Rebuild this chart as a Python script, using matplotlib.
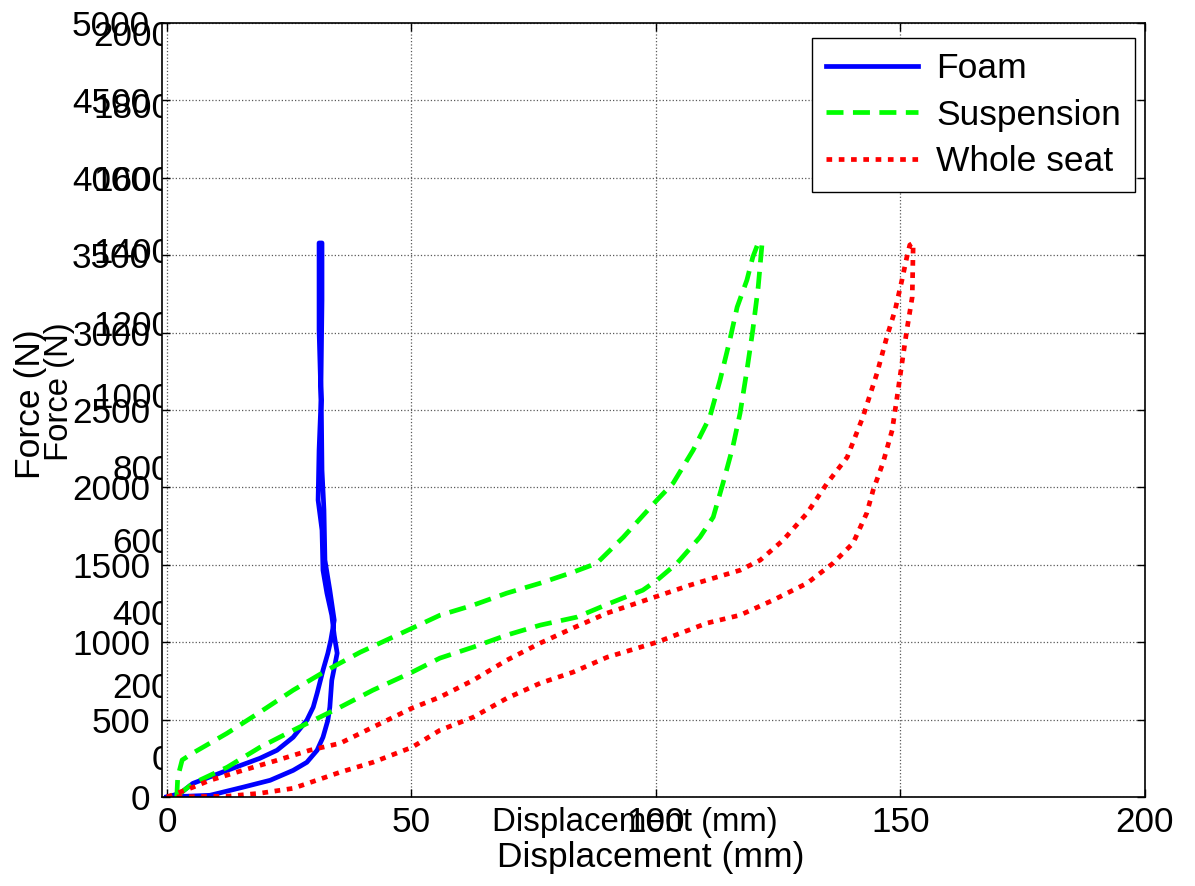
import numpy as np
import matplotlib
matplotlib.use('Agg')
import matplotlib.pyplot as plt


# 数据：位移 (mm) 与力 (N)
foam_x = [0, 8.8, 15.5, 21.1, 25.8, 28.6, 30.7, 31.9, 32.9, 33.3, 33.7, 34.4, 34.8,
          34.2, 33.7, 32.7, 31.9, 31.7, 30.9, 31.1, 31.5, 31.1, 31.1,
          31.7, 31.7, 31.5, 31.7, 32.1, 32.3, 33.3, 34.2, 33.5, 32.9, 31.9, 30.7,
          29.9, 28.6, 25.8, 22.5, 19.0, 12.3, 5.3, 2.7, 0]
foam_y = [0, 11, 63, 108, 172, 224, 302, 386, 496, 580, 754, 864, 929,
          1045, 1174, 1317, 1465, 1724, 1918, 2241, 2564, 3017, 3579,
          3579, 3210, 2693, 2111, 1853, 1530, 1336, 1142, 1013, 929, 819, 670,
          580, 496, 386, 302, 250, 172, 88, 24, 0]

susp_x = [2.0, 2.2, 3.1, 5.3, 12.3, 19.0, 25.8, 32.7, 39.5, 50.1, 55.8, 62.6, 69.5,
          76.3, 83.0, 87.9, 93.3, 100.2, 103.5, 107.6, 111.0, 113.1, 115.1, 116.6,
          118.6, 119.8, 120.9,
          121.7, 120.9, 119.8, 118.6, 117.2, 115.7, 113.7, 111.7, 109.0, 104.3,
          100.2, 97.3, 90.6, 83.8, 76.3, 69.5, 62.6, 55.8, 50.1, 42.1, 35.4, 25.8,
          19.0, 12.3, 5.3, 2.7, 1.2]
susp_y = [0, 129, 239, 284, 412, 548, 690, 819, 935, 1090, 1174, 1239, 1317,
          1381, 1452, 1510, 1678, 1918, 2027, 2241, 2454, 2693, 2952, 3165,
          3340, 3488, 3579,
          3579, 3294, 3017, 2758, 2480, 2260, 2027, 1808, 1679, 1510,
          1400, 1336, 1252, 1162, 1110, 1046, 968, 897, 806, 690, 580, 431,
          321, 192, 88, 24, 0]

seat_x = [0, 5.3, 8.8, 15.5, 22.5, 29.2, 35.4, 42.1, 50.1, 55.8, 62.6, 69.5, 76.3,
          83.0, 90.0, 96.7, 107.0, 117.2, 121.3, 126.0, 130.9, 135.0, 139.1, 142.3,
          145.2, 147.2, 148.9, 150.3, 151.3, 151.9,
          152.6, 152.4, 151.3, 150.3, 149.3, 148.3, 146.4, 144.4, 143.1, 140.3,
          136.2, 130.9, 123.9, 117.2, 110.4, 100.2, 90.0, 83.0, 76.3, 69.5, 62.6,
          55.8, 50.1, 42.1, 35.4, 25.8, 19.0, 12.3, 0]
seat_y = [0, 63, 108, 172, 237, 302, 347, 451, 574, 645, 754, 884, 994,
          1091, 1188, 1259, 1369, 1465, 1530, 1659, 1834, 2027, 2195, 2454,
          2738, 2971, 3146, 3340, 3488, 3566,
          3579, 3230, 3017, 2803, 2583, 2370, 2157, 1982, 1834, 1640,
          1510, 1381, 1271, 1175, 1123, 1000, 903, 806, 735, 638, 515,
          431, 321, 224, 160, 56, 24, 5, 0]

labels = ['Foam', 'Suspension', 'Whole seat']
x_ticks = [0, 50, 100, 150, 200]
y_ticks = list(range(0, 5001, 500))
y2_ticks = list(range(0, 2001, 200))


def plot_def():
    plt.rcParams['font.family'] = ['Liberation Sans', 'DejaVu Sans']
    fig = plt.figure(figsize=(11.95, 8.86), dpi=100)
    W, H = 1195, 886

    # 后面那个坐标轴（0-2000），大部分被主坐标轴盖住
    ax2 = fig.add_axes([185 / W, (H - 757) / H, 900 / W, 724 / H], zorder=0)
    ax2.set_xlim(0, 200)
    ax2.set_ylim(0, 2000)
    ax2.set_yticks(y2_ticks)
    ax2.set_xticks(x_ticks)
    ax2.tick_params(direction='in', labelsize=25.3, pad=10)
    ax2.set_xlabel('Displacement (mm)', fontsize=23.8, va='center')
    ax2.set_ylabel('Force (N)', fontsize=23.7, va='center')
    ax2.xaxis.set_label_coords(0.5, -0.09)
    ax2.yaxis.set_label_coords((60 - 185) / 900, 0.504)

    # 主坐标轴
    ax = fig.add_axes([162 / W, (H - 797) / H, 983 / W, 774 / H], zorder=1)
    ax.set_facecolor('white')
    ax.plot(foam_x, foam_y, color='#0000ff', lw=3.4, solid_joinstyle='round')
    ax.plot(susp_x, susp_y, color='#00ff00', lw=3.4, linestyle=(0, (3.6, 2.0)))
    ax.plot(seat_x, seat_y, color='#ff0000', lw=3.4, linestyle=(0, (1.2, 1.4)))
    ax.set_xlim(-1.02, 200)
    ax.set_ylim(0, 5000)
    ax.set_xticks(x_ticks)
    ax.set_yticks(y_ticks)
    ax.grid(True, linestyle=':', color='0.35', linewidth=0.9)
    ax.tick_params(direction='in', length=6, width=1, top=True, right=True,
                   labelsize=25.3)
    ax.tick_params(axis='y', pad=8.5)
    ax.tick_params(axis='x', pad=6.5)
    for s in ax.spines.values():
        s.set_linewidth(1.2)
    ax.set_xlabel('Displacement (mm)', fontsize=25.5, va='center')
    ax.set_ylabel('Force (N)', fontsize=25.5, va='center')
    ax.xaxis.set_label_coords(0.4975, (797 - 858) / 774)
    ax.yaxis.set_label_coords((31 - 162) / 983, (797 - 404) / 774)

    leg = ax.legend(labels, loc='upper right',
                    bbox_to_anchor=((1135 - 162) / 983, (797 - 38) / 774),
                    borderaxespad=0, fontsize=25.5, fancybox=False, framealpha=1,
                    edgecolor='black', handlelength=2.6, handletextpad=0.5,
                    labelspacing=0.38, borderpad=0.4)
    leg.get_frame().set_linewidth(1.0)

    fig.savefig('out.png', dpi=100)


def main():
    plot_def()


if __name__ == "__main__":
    main()
